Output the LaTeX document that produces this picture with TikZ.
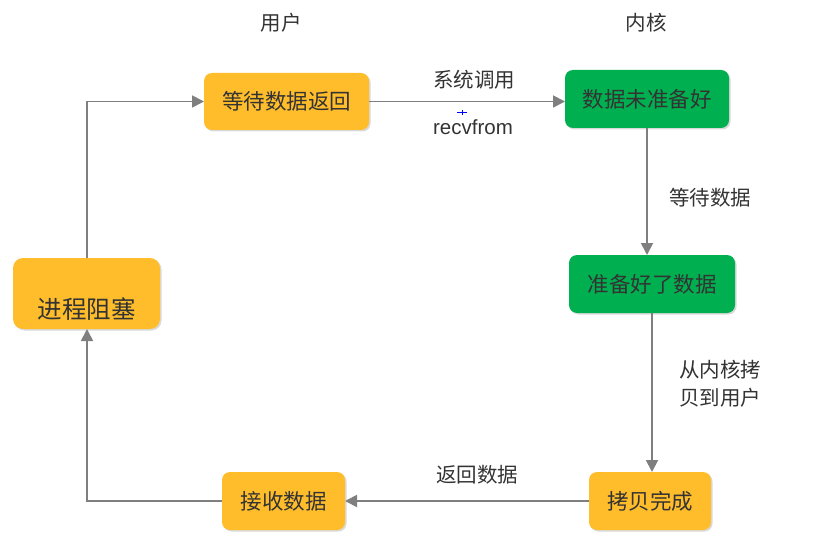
\documentclass[tikz,border=0pt]{standalone}
\usepackage{fontspec}
\setmainfont{Noto Sans CJK SC}
\newfontfamily\latinfont{Liberation Sans}
\usetikzlibrary{arrows.meta,shadows}
\definecolor{orangebox}{HTML}{FFBD2B}
\definecolor{greenbox}{HTML}{00B050}
\definecolor{txt}{HTML}{333333}
\definecolor{linegray}{HTML}{7F7F7F}
\tikzset{
  box/.style={rounded corners=8pt, draw=none, text=txt, font=\fontsize{21.5}{24}\selectfont,
    inner sep=0pt, outer sep=0pt, drop shadow={shadow xshift=1.5pt, shadow yshift=-1.5pt, opacity=0.15, fill=black}},
  ubox/.style={box, fill=orangebox},
  kbox/.style={box, fill=greenbox},
  conn/.style={draw=linegray, line width=1.8pt, -{Triangle[length=12pt,width=12pt]}},
  lbl/.style={text=txt, font=\fontsize{20.5}{28}\selectfont, inner sep=0pt},
}
\begin{document}
\begin{tikzpicture}[x=1pt,y=-1pt]
\useasboundingbox (0,0) rectangle (834,537);
\node[lbl] (huser) at (281,23) {用户};
\node[lbl] (hkern) at (646,23) {内核};

\node[ubox, minimum width=165pt, minimum height=57pt] (wait) at (286.5,101.5) {等待数据返回};
\node[kbox, minimum width=164pt, minimum height=58pt] (notready) at (647,99) {数据未准备好};
\node[kbox, minimum width=166pt, minimum height=58pt] (ready) at (652,284) {准备好了数据};
\node[ubox, minimum width=122pt, minimum height=58pt] (copied) at (650,501) {拷贝完成};
\node[ubox, minimum width=123pt, minimum height=58pt] (recv) at (283.5,501) {接收数据};
\node[ubox, minimum width=147pt, minimum height=71pt, rounded corners=10pt] (block) at (86.5,293.5) {};
\node[lbl, font=\fontsize{24.5}{28}\selectfont] (blocktxt) at (86.5,309) {进程阻塞};

\coordinate (c1) at (87,101.5);
\coordinate (c2) at (87,501);

\draw[conn] (block.north -| c1) -- (c1) -- (wait.west);
\draw[conn] (wait.east) -- (notready.west |- wait.east);
\draw[conn] (notready.south) -- (notready.south |- ready.north);
\draw[conn] (ready.south) -- (ready.south |- copied.north);
\draw[conn] (copied.west) -- (recv.east);
\draw[conn] (recv.west) -- (c2) -- (block.south -| c2);

\node[lbl] (l1) at (474,80) {系统调用};
\node[lbl, font=\latinfont\fontsize{20.5}{24}\selectfont] (l2) at (473,127) {recvfrom};
\node[lbl] (l3) at (710,198) {等待数据};
\node[lbl, align=left, anchor=west] (l4) at (679,384) {从内核拷\\贝到用户};
\node[lbl] (l5) at (477,475) {返回数据};

% small blue anchor mark
\coordinate (bm) at (462,112);
\draw[blue, line width=0.8pt] ([xshift=-5pt]bm) -- ([xshift=5pt]bm);
\draw[blue, line width=0.8pt] ([yshift=-3pt]bm) -- ([yshift=2pt]bm);
\end{tikzpicture}
\end{document}
